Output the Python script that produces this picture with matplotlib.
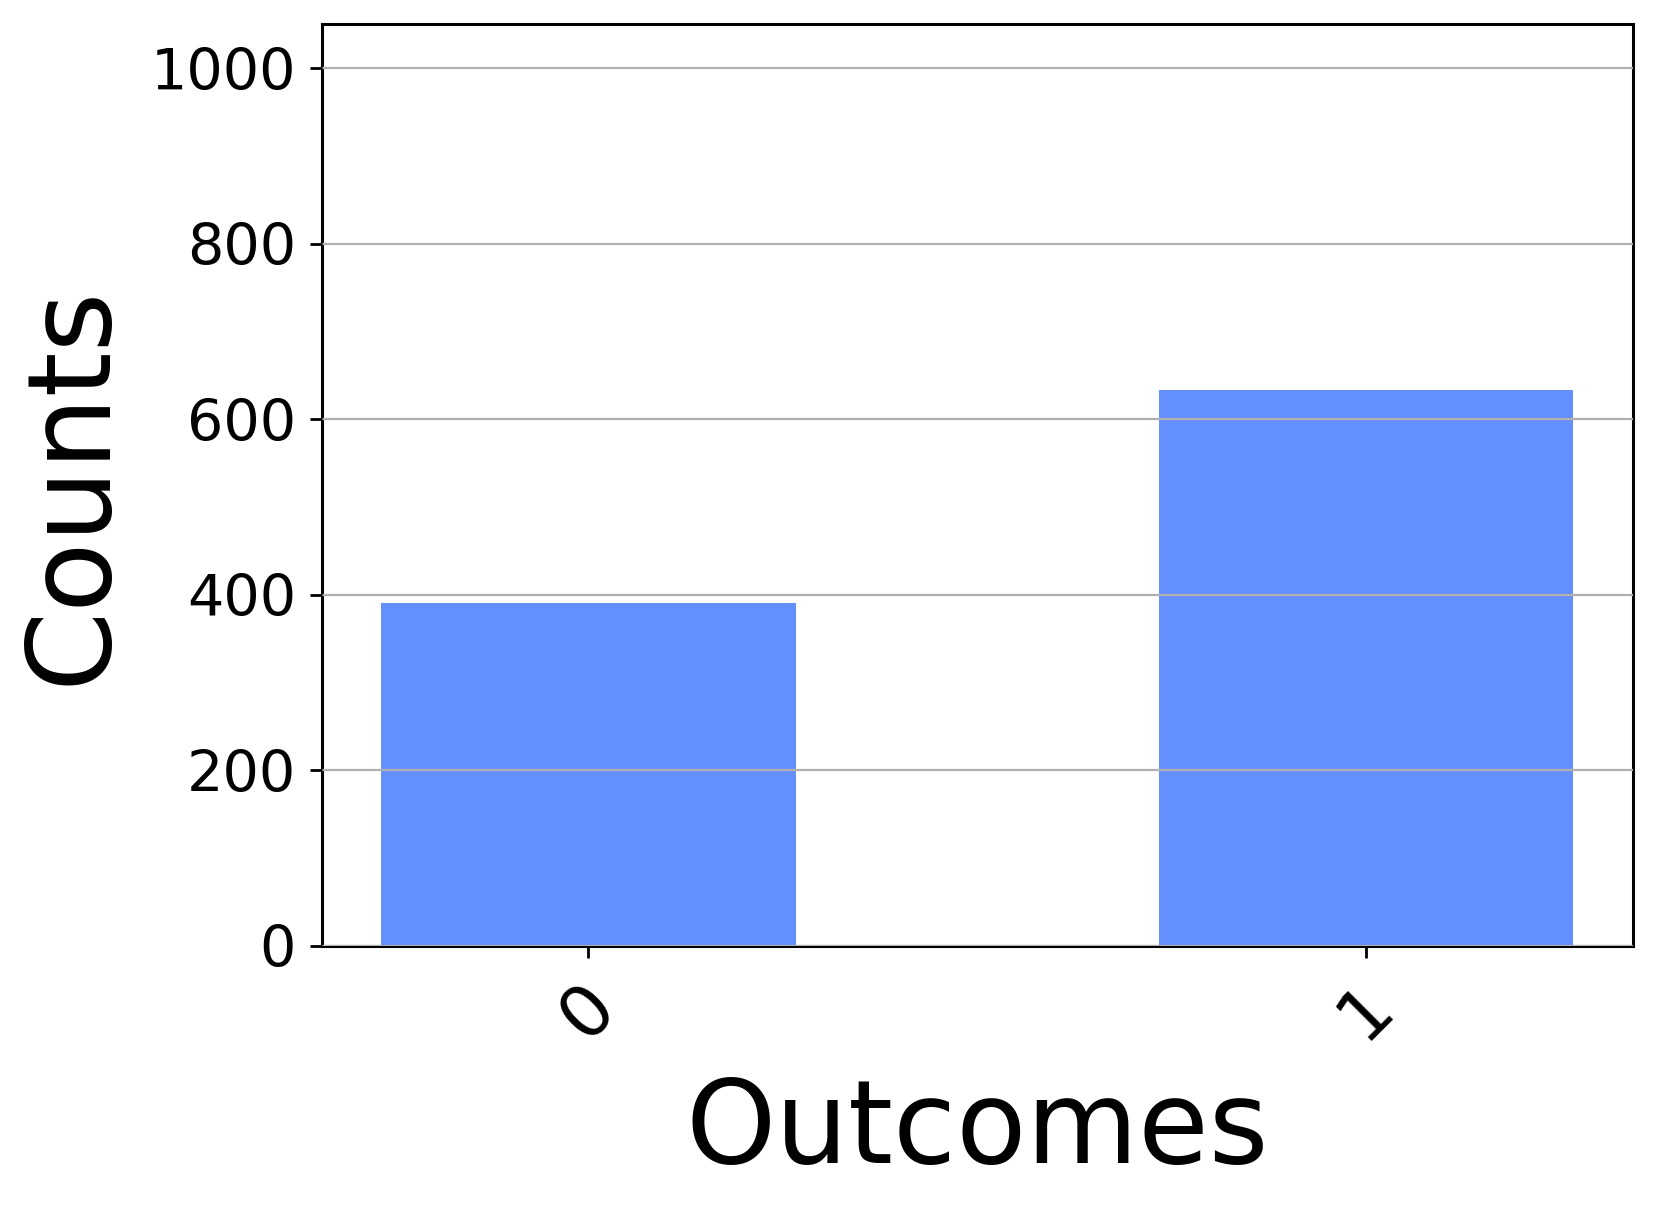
import matplotlib
matplotlib.use("Agg")
import matplotlib.pyplot as plt

outcomes = ["0", "1"]
counts = [391, 633]

fig = plt.figure(figsize=(8.295, 6.06), dpi=200)
ax = fig.add_axes([0.1939, 0.2195, 0.9841 - 0.1939, 0.980 - 0.2195])

x = list(range(len(outcomes)))
ax.bar(x, counts, width=0.533, color="#648fff", zorder=1)
ax.set_xlim(-0.343, 1.343)
ax.set_ylim(0, 1050)
ax.set_yticks([0, 200, 400, 600, 800, 1000])
ax.set_xticks(x)
ax.set_xticklabels(outcomes, rotation=45, fontsize=26)
ax.yaxis.grid(True, color="#b0b0b0", linewidth=0.8, zorder=2)
ax.set_axisbelow(False)
for s in ax.spines.values():
    s.set_linewidth(1.1)
    s.set_color("black")
ax.tick_params(axis="y", labelsize=20.6, length=4.2, width=1.0, pad=5)
ax.tick_params(axis="x", length=4.2, width=1.0, pad=5)
ax.set_xlabel("Outcomes", fontsize=41.3, labelpad=8)
ax.set_ylabel("Counts", fontsize=41.3, labelpad=8)

fig.savefig("out.png", dpi=200)
